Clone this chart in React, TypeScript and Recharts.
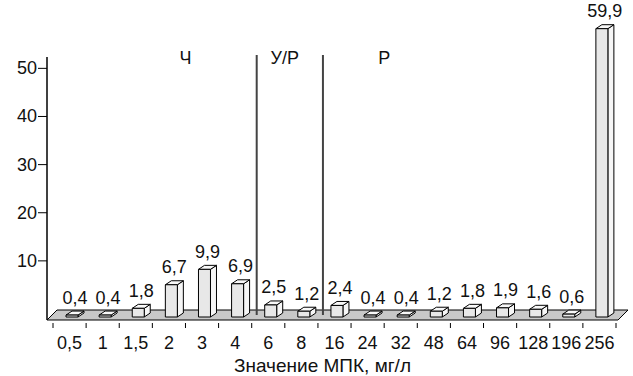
import { BarChart, Bar, XAxis, YAxis, ReferenceLine, LabelList } from "recharts";

const MIC = ["0,5", "1", "1,5", "2", "3", "4", "6", "8", "16", "24", "32", "48", "64", "96", "128", "196", "256"];
const SHARE = [0.4, 0.4, 1.8, 6.7, 9.9, 6.9, 2.5, 1.2, 2.4, 0.4, 0.4, 1.2, 1.8, 1.9, 1.6, 0.6, 59.9];
const Y_TICKS = [10, 20, 30, 40, 50];
const DIVIDERS = ["6", "16"];
const ZONES = [
  { name: "Ч", at: "3" },
  { name: "У/Р", at: "8" },
  { name: "Р", at: "32" },
];
const X_TITLE = "Значение МПК, мг/л";

const data = MIC.map((mic, i) => ({ mic, share: SHARE[i] }));

const FONT = "'Liberation Sans', Arial, sans-serif";
const FS = 18;
// fake 3d: depth offset of boxes and floor
const DX = 6;
const DY = 4;
const LIFT = 8;

const fmt = (v: number) => v.toFixed(1).replace(".", ",");

function Box(props: any) {
  const { x, y, width, height } = props;
  if (x == null || y == null) return null;
  const top = y + LIFT;
  const h = Math.max(height, 1);
  const l = x + 2;
  const r = l + width;
  return (
    <g stroke="#000" strokeWidth={1} strokeLinejoin="round">
      <polygon points={`${r},${top} ${r + DX},${top - DY} ${r + DX},${top + h - DY} ${r},${top + h}`} fill="#f6f6f6" />
      <polygon points={`${l},${top} ${l + DX},${top - DY} ${r + DX},${top - DY} ${r},${top}`} fill="#f8f8f8" />
      <rect x={l} y={top} width={width} height={h} fill="#e8e8e8" />
    </g>
  );
}

function ValueLabel(props: any) {
  const vb = props.viewBox || {};
  const x = props.x ?? vb.x;
  const y = props.y ?? vb.y;
  const width = props.width ?? vb.width;
  if (x == null || y == null) return null;
  return (
    <text x={x + width / 2 + 2 + DX / 2} y={y + LIFT - 11.5} textAnchor="middle" fontSize={FS} fontFamily={FONT} fill="#111">
      {fmt(Number(props.value))}
    </text>
  );
}

function Floor(props: any) {
  const { x1, x2, y1 } = props;
  const front = y1 + 11;
  const back = y1 + 1;
  return (
    <g>
      <polygon
        points={`${x1 - 6},${front} ${x2 + 2},${front} ${x2 + 12},${back} ${x1 + 4},${back}`}
        fill="#c8c8c8"
        stroke="#000"
        strokeWidth={1}
      />
      <line x1={x1 - 6} x2={x1 - 6} y1={y1 - 252} y2={front} stroke="#000" strokeWidth={1.5} />
    </g>
  );
}

function Divider(props: any) {
  const { x1, y1, y2 } = props;
  const top = Math.min(y1, y2);
  const bottom = Math.max(y1, y2);
  return <line x1={x1 + 5} x2={x1 + 5} y1={top + 42} y2={bottom + 6} stroke="#444" strokeWidth={2} />;
}

function MicTick(props: any) {
  const { x, y, payload, index } = props;
  const half = payload?.offset || 16.5;
  return (
    <g>
      <line x1={x - half} x2={x - half} y1={y + 14} y2={y + 19} stroke="#000" />
      {index === MIC.length - 1 && <line x1={x + half} x2={x + half} y1={y + 14} y2={y + 19} stroke="#000" />}
      <text x={x} y={y + 40} textAnchor="middle" fontSize={FS} fontFamily={FONT} fill="#111">
        {payload.value}
      </text>
    </g>
  );
}

function ShareTick(props: any) {
  const { x, y, payload } = props;
  return (
    <g>
      <line x1={x - 15} x2={x - 6} y1={y} y2={y} stroke="#000" />
      <text x={x - 16} y={y + 6} textAnchor="end" fontSize={FS} fontFamily={FONT} fill="#111">
        {payload.value}
      </text>
    </g>
  );
}

export default function App() {
  return (
    <div style={{ position: "absolute", left: 0, top: 0, background: "#fff" }}>
      <BarChart width={633} height={376} data={data} margin={{ top: 13, right: 17, bottom: 0, left: 8 }}>
        <XAxis
          dataKey="mic"
          type="category"
          interval={0}
          height={67}
          axisLine={false}
          tickLine={false}
          tickSize={0}
          tickMargin={0}
          tick={<MicTick />}
          label={(p: any) => {
            const vb = p.viewBox;
            return (
              <text x={vb.x + vb.width / 2 - 12} y={372} textAnchor="middle" fontSize={19} fontFamily={FONT} fill="#111">
                {X_TITLE}
              </text>
            );
          }}
        />
        <YAxis
          type="number"
          domain={[0, 61.5]}
          ticks={Y_TICKS}
          width={45}
          axisLine={false}
          tickLine={false}
          tickSize={0}
          tickMargin={0}
          tick={<ShareTick />}
        />
        <ReferenceLine y={0} ifOverflow="visible" shape={<Floor />} zIndex={-10} />
        {DIVIDERS.map((d) => (
          <ReferenceLine key={d} x={d} position="start" ifOverflow="visible" shape={<Divider />} />
        ))}
        {ZONES.map((z) => (
          <ReferenceLine
            key={z.name}
            x={z.at}
            position="start"
            stroke="none"
            label={(p: any) => (
              <text x={p.viewBox.x} y={p.viewBox.y + 51} textAnchor="middle" fontSize={FS} fontFamily={FONT} fill="#111">
                {z.name}
              </text>
            )}
          />
        ))}
        <Bar dataKey="share" barSize={12} shape={<Box />} isAnimationActive={false}>
          <LabelList dataKey="share" content={<ValueLabel />} />
        </Bar>
      </BarChart>
    </div>
  );
}
